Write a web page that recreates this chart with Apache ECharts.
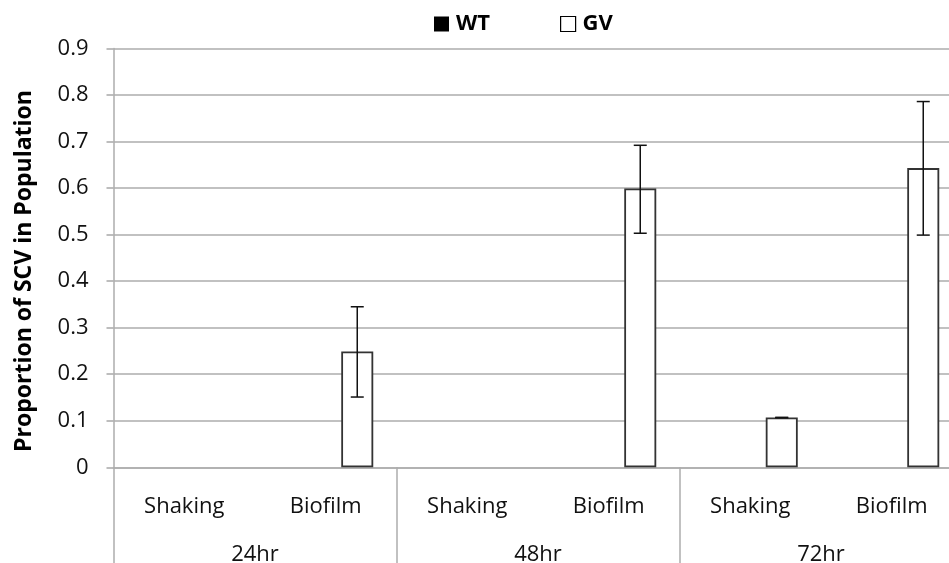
<!DOCTYPE html>
<html>
<head>
<meta charset="utf-8">
<script src="https://cdn.jsdelivr.net/npm/echarts@6/dist/echarts.min.js"></script>
<style>
  html, body { margin: 0; padding: 0; background: #fff; }
  #chart { width: 949px; height: 563px; }
</style>
</head>
<body>
<div id="chart"></div>
<script>
// conditions and time points
const conditions = ['Shaking', 'Biofilm', 'Shaking', 'Biofilm', 'Shaking', 'Biofilm'];
const timePoints = ['24hr', '48hr', '72hr'];

// proportion of SCV in population
const wtValues = [0, 0, 0, 0, 0, 0];
const gvValues = [0, 0.249, 0, 0.599, 0.107, 0.643];

// error bar ends for GV: [category index, low, high]
const gvErrors = [
  [1, 0.151, 0.345],
  [3, 0.503, 0.692],
  [4, 0.107, 0.107],
  [5, 0.499, 0.786]
];

const yTicks = { min: 0, max: 0.9, interval: 0.1 };
const yTitle = 'Proportion of SCV in Population';

const font = '"Open Sans", sans-serif';
const gridColor = '#adadad';
const barWidth = 32;
const barGapPx = 31;

const chart = echarts.init(document.getElementById('chart'));

function renderErrorBar(params, api) {
  const idx = api.value(0);
  const low = api.coord([idx, api.value(1)]);
  const high = api.coord([idx, api.value(2)]);
  // GV is the second bar in each category
  const x = low[0] + (barWidth + barGapPx) / 2;
  const cap = 6.5;
  const style = { stroke: '#111', lineWidth: 1.5 };
  return {
    type: 'group',
    children: [
      { type: 'line', shape: { x1: x, y1: low[1], x2: x, y2: high[1] }, style },
      { type: 'line', shape: { x1: x - cap, y1: low[1], x2: x + cap, y2: low[1] }, style },
      { type: 'line', shape: { x1: x - cap, y1: high[1], x2: x + cap, y2: high[1] }, style }
    ]
  };
}

// zero bars are not outlined in the original
const gvData = gvValues.map(v => v === 0 ? { value: v, itemStyle: { borderWidth: 0 } } : v);

chart.setOption({
  animation: false,
  backgroundColor: '#fff',
  textStyle: { fontFamily: font },
  legend: {
    left: 429,
    top: 8,
    itemWidth: 15,
    itemHeight: 15,
    itemGap: 70,
    textStyle: { fontFamily: font, fontSize: 22, fontWeight: 'bold', color: '#000', padding: [0, 0, 0, 2] },
    data: [
      { name: 'WT', icon: 'rect', itemStyle: { color: '#000', borderWidth: 0 } },
      { name: 'GV', icon: 'rect', itemStyle: { color: '#fff', borderColor: '#000', borderWidth: 1.2 } }
    ]
  },
  graphic: [{
    type: 'text',
    x: 24,
    y: 271,
    rotation: Math.PI / 2,
    style: {
      text: yTitle,
      font: 'bold 23px ' + font,
      fill: '#000',
      textAlign: 'center',
      textVerticalAlign: 'middle'
    }
  }],
  grid: { left: 113.5, top: 48.5, width: 849, height: 418.8, containLabel: false, outerBoundsMode: 'none' },
  xAxis: [
    {
      type: 'category',
      data: conditions,
      position: 'bottom',
      axisLine: { lineStyle: { color: gridColor, width: 1.6 } },
      axisTick: { length: 50, lineStyle: { color: gridColor, width: 1.5 } },
      axisLabel: { color: '#111', fontSize: 22, margin: 28, fontFamily: font },
      splitLine: { show: false }
    },
    {
      type: 'category',
      data: timePoints,
      position: 'bottom',
      axisLine: { show: false },
      axisTick: { show: true, length: 100, lineStyle: { color: gridColor, width: 1.5 } },
      axisLabel: { color: '#111', fontSize: 22, margin: 76, fontFamily: font },
      splitLine: { show: false }
    }
  ],
  yAxis: {
    type: 'value',
    min: yTicks.min,
    max: yTicks.max,
    interval: yTicks.interval,
    axisLine: { show: true, lineStyle: { color: gridColor, width: 1.5 } },
    axisTick: { show: true, length: 7, lineStyle: { color: gridColor, width: 1.6 } },
    axisLabel: { color: '#111', fontSize: 22, margin: 25, fontFamily: font },
    splitLine: { lineStyle: { color: gridColor, width: 1.6 } }
  },
  series: [
    {
      name: 'WT',
      type: 'bar',
      data: wtValues,
      barWidth: barWidth,
      barGap: (barGapPx / barWidth * 100) + '%',
      itemStyle: { color: '#000', borderWidth: 0 }
    },
    {
      name: 'GV',
      type: 'bar',
      data: gvData,
      barWidth: barWidth,
      itemStyle: { color: '#fff', borderColor: '#333', borderWidth: 1.8 }
    },
    {
      name: 'GV error',
      type: 'custom',
      data: gvErrors,
      renderItem: renderErrorBar,
      z: 5,
      silent: true
    }
  ]
});
</script>
</body>
</html>
